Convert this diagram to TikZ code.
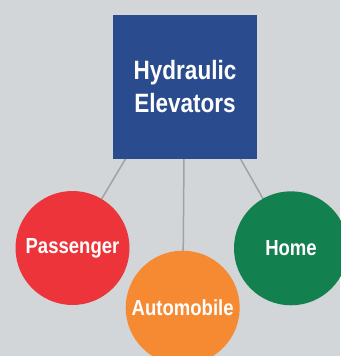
\documentclass[tikz,border=0pt]{standalone}
\usepackage{fontspec}
\setmainfont{Liberation Sans}[FakeStretch=0.85]
\definecolor{bgc}{HTML}{D3D6D9}
\definecolor{blueb}{HTML}{2A4B8D}
\definecolor{redc}{HTML}{EE343B}
\definecolor{orangec}{HTML}{F68A33}
\definecolor{greenc}{HTML}{13804F}
\definecolor{linec}{HTML}{A0A2A5}
\begin{document}
\begin{tikzpicture}[x=1pt,y=-1pt,
  topbox/.style={fill=blueb, minimum size=144pt, inner sep=0pt, text=white, align=center,
    font=\fontsize{26.5}{33}\selectfont\bfseries},
  leaf/.style={circle, minimum size=114pt, inner sep=0pt, text=white,
    font=\fontsize{21.8}{26}\selectfont\bfseries},
  conn/.style={draw=linec, line width=1.5pt}]
\fill[bgc] (0,0) rectangle (340,356);
\useasboundingbox (0,0) rectangle (340,356);
\coordinate (s1) at (126,158);
\coordinate (s2) at (184,158);
\coordinate (s3) at (240,158);
\coordinate (c1) at (72.5,248);
\coordinate (c2) at (182.7,307.7);
\coordinate (c3) at (291,248.3);
\draw[conn] (s1) -- (c1);
\draw[conn] (s2) -- (c2);
\draw[conn] (s3) -- (c3);
\node[topbox] (top) at (185,86.5) {Hydraulic\\Elevators};
\node[leaf, fill=redc] (pass) at (c1) {Passenger};
\node[leaf, fill=orangec] (auto) at (c2) {Automobile};
\node[leaf, fill=greenc] (home) at (c3) {Home};
\end{tikzpicture}
\end{document}
